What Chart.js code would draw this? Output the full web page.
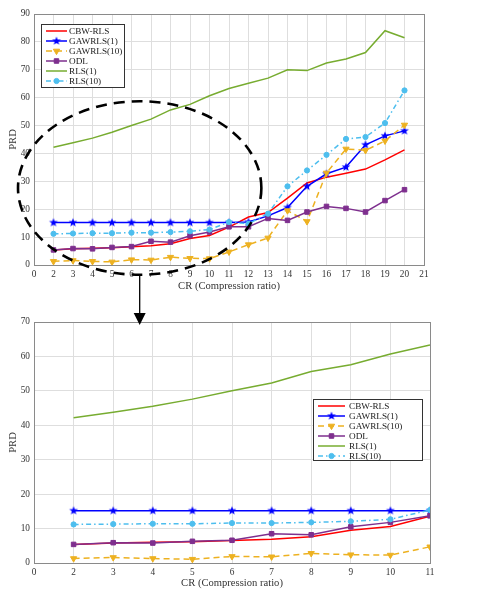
<!DOCTYPE html>
<html>
<head>
<meta charset="utf-8">
<script src="https://cdn.jsdelivr.net/npm/chart.js@4.4.0/dist/chart.umd.min.js"></script>
<style>
html, body { margin: 0; padding: 0; background: #fff; }
#wrap { position: relative; width: 478px; height: 594px; }
#chart_top { position: absolute; left: 0; top: 0; }
#chart_bottom { position: absolute; left: 0; top: 300px; }
#overlay { position: absolute; left: 0; top: 0; pointer-events: none; }
</style>
</head>
<body>
<div id="wrap">
  <canvas id="chart_top" width="478" height="300"></canvas>
  <canvas id="chart_bottom" width="478" height="294"></canvas>
  <canvas id="overlay" width="478" height="594"></canvas>
</div>
<script>
// compression ratios (shared by both panels, bottom one is a zoom on CR 2..11)
var cr = [2, 3, 4, 5, 6, 7, 8, 9, 10, 11, 12, 13, 14, 15, 16, 17, 18, 19, 20];

var cbw_rls  = [5.4, 5.8, 6.0, 6.2, 6.5, 6.9, 7.6, 9.5, 10.6, 13.6, 17.2, 18.8, 24.0, 29.4, 31.5, 32.9, 34.4, 37.7, 41.3];
var gawrls1  = [15.2, 15.2, 15.2, 15.2, 15.2, 15.2, 15.2, 15.2, 15.2, 15.2, 15.4, 17.6, 20.6, 28.2, 32.7, 35.1, 43.1, 46.3, 48.1];
var gawrls10 = [1.3, 1.6, 1.3, 1.1, 1.9, 1.8, 2.8, 2.4, 2.3, 4.7, 7.3, 9.7, 19.5, 15.6, 33.0, 41.6, 41.1, 44.5, 50.2];
var odl      = [5.4, 5.9, 5.8, 6.3, 6.6, 8.5, 8.2, 10.5, 11.8, 13.7, 13.7, 16.7, 16.0, 19.0, 21.0, 20.3, 19.0, 23.1, 27.0];
var rls1     = [42.2, 43.8, 45.5, 47.6, 50.0, 52.3, 55.6, 57.6, 60.7, 63.3, 65.2, 67.0, 70.0, 69.7, 72.4, 73.9, 76.2, 84.0, 81.5];
var rls10    = [11.2, 11.3, 11.4, 11.4, 11.6, 11.6, 11.8, 12.1, 12.7, 15.4, 14.8, 18.4, 28.2, 33.9, 39.5, 45.2, 45.9, 50.9, 62.6];

// tick labels (first tick sits at axis position 1 but reads "0")
var x_ticks_top = ['0', '2', '3', '4', '5', '6', '7', '8', '9', '10', '11', '12', '13', '14', '15', '16', '17', '18', '19', '20', '21'];
var x_ticks_bottom = ['0', '2', '3', '4', '5', '6', '7', '8', '9', '10', '11'];
var y_max_top = 90;
var y_max_bottom = 70;
var n_zoom = 10; // points shown in the zoomed panel

var x_title = 'CR (Compression ratio)';
var y_title = 'PRD';

var FONT = '"Liberation Serif", "Times New Roman", serif';

// dashed ellipse around the zoomed region, in top panel data units
var zoom_ring = { cx: 6.42, cy: 27.6, rx: 6.24, ry: 31.1 };

function makeStar(color, r) {
  var c = document.createElement('canvas');
  var s = Math.ceil(r * 2 + 2);
  c.width = s;
  c.height = s;
  var g = c.getContext('2d');
  g.fillStyle = color;
  g.beginPath();
  for (var i = 0; i < 10; i++) {
    var rad = i % 2 === 0 ? r : r * 0.42;
    var a = -Math.PI / 2 + i * Math.PI / 5;
    var px = s / 2 + rad * Math.cos(a);
    var py = s / 2 + rad * Math.sin(a);
    if (i === 0) g.moveTo(px, py); else g.lineTo(px, py);
  }
  g.closePath();
  g.fill();
  return c;
}

var star_img = makeStar('#0000ff', 4.6);

function pts(vals, n) {
  var out = [];
  for (var i = 0; i < n; i++) out.push({ x: cr[i], y: vals[i] });
  return out;
}

function makeDatasets(n) {
  var list = [
    { label: 'CBW-RLS', data: pts(cbw_rls, n), borderColor: '#ff0000', pointRadius: 0, pointStyle: false },
    { label: 'GAWRLS(1)', data: pts(gawrls1, n), borderColor: '#0000ff', pointStyle: star_img, pointRadius: 4 },
    { label: 'GAWRLS(10)', data: pts(gawrls10, n), borderColor: '#edb120', borderDash: [6, 4],
      pointStyle: 'triangle', pointRotation: 180, pointRadius: 3.6 },
    { label: 'ODL', data: pts(odl, n), borderColor: '#7e2f8e', pointStyle: 'rect', pointRadius: 3.2 },
    { label: 'RLS(1)', data: pts(rls1, n), borderColor: '#77ac30', pointRadius: 0, pointStyle: false },
    { label: 'RLS(10)', data: pts(rls10, n), borderColor: '#4dbeee', borderDash: [5, 3, 1.5, 3],
      pointStyle: 'circle', pointRadius: 2.6 }
  ];
  list.forEach(function(ds, i) {
    ds.backgroundColor = ds.borderColor;
    ds.pointBackgroundColor = ds.borderColor;
    ds.pointBorderColor = ds.borderColor;
    ds.pointBorderWidth = 1;
    ds.borderWidth = 1.5;
    ds.fill = false;
    ds.tension = 0;
    ds.order = -i; // later series on top, like matlab
  });
  return list;
}

// box around plot area + boxed legend inside it
var frame_plugin = {
  id: 'frame',
  afterDatasetsDraw: function(chart, args, opts) {
    var ctx = chart.ctx;
    var a = chart.chartArea;
    ctx.save();
    ctx.strokeStyle = '#8a8a8a';
    ctx.lineWidth = 1;
    ctx.strokeRect(Math.round(a.left) + 0.5, Math.round(a.top) + 0.5,
      Math.round(a.right - a.left), Math.round(a.bottom - a.top));

    // legend
    var L = opts.legend;
    var bx = a.left + L.dx, by = a.top + L.dy;
    ctx.fillStyle = '#ffffff';
    ctx.fillRect(bx, by, L.w, L.h);
    ctx.strokeStyle = '#333333';
    ctx.strokeRect(Math.round(bx) + 0.5, Math.round(by) + 0.5, L.w, L.h);
    ctx.font = '9.2px ' + FONT;
    ctx.textBaseline = 'middle';
    chart.data.datasets.forEach(function(ds, i) {
      var y = by + L.row0 + i * L.rowH;
      ctx.strokeStyle = ds.borderColor;
      ctx.lineWidth = 1.5;
      ctx.setLineDash(ds.borderDash || []);
      ctx.beginPath();
      ctx.moveTo(bx + L.line0, y);
      ctx.lineTo(bx + L.line1, y);
      ctx.stroke();
      ctx.setLineDash([]);
      if (ds.pointStyle) {
        ctx.fillStyle = ds.borderColor;
        ctx.lineWidth = 1;
        Chart.helpers.drawPoint(ctx, {
          pointStyle: ds.pointStyle, rotation: ds.pointRotation || 0,
          radius: ds.pointRadius, borderWidth: 1
        }, bx + (L.line0 + L.line1) / 2, y);
      }
      ctx.fillStyle = '#222';
      ctx.fillText(ds.label, bx + L.text, y + 0.5);
    });
    ctx.restore();
  }
};

function makeChart(id, n, ticks, ymax, layout, legend) {
  return new Chart(document.getElementById(id), {
    type: 'line',
    data: { datasets: makeDatasets(n) },
    plugins: [frame_plugin],
    options: {
      responsive: false,
      animation: false,
      devicePixelRatio: 1,
      layout: { padding: { top: layout.top, right: layout.right, left: 0, bottom: 0 } },
      plugins: {
        legend: { display: false },
        tooltip: { enabled: false },
        frame: { legend: legend }
      },
      scales: {
        x: {
          type: 'linear',
          min: 1,
          max: ticks.length,
          afterBuildTicks: function(ax) {
            ax.ticks = ticks.map(function(t, i) { return { value: i + 1 }; });
          },
          afterFit: function(ax) { ax.height = layout.xh; },
          ticks: {
            autoSkip: false,
            maxRotation: 0,
            padding: 4,
            color: '#333',
            font: { family: FONT, size: 9.3 },
            callback: function(v, i) { return ticks[i]; }
          },
          grid: { color: '#dedede', drawTicks: false },
          border: { display: false },
          title: {
            display: true, text: x_title, color: '#333',
            font: { family: FONT, size: 10.6 },
            padding: { top: 0, bottom: layout.titlePad }
          }
        },
        y: {
          min: 0,
          max: ymax,
          afterFit: function(ax) { ax.width = 34; },
          ticks: {
            stepSize: 10,
            padding: 4,
            color: '#333',
            font: { family: FONT, size: 9.3 }
          },
          grid: { color: '#dedede', drawTicks: false },
          border: { display: false },
          title: {
            display: true, text: y_title, color: '#333',
            font: { family: FONT, size: 10.6 },
            padding: { top: 7, bottom: 0 }
          }
        }
      }
    }
  });
}

var chart_top = makeChart('chart_top', cr.length, x_ticks_top, y_max_top,
  { top: 14, right: 54, xh: 35, titlePad: 7.5 },
  { dx: 7, dy: 10, w: 83, h: 63, line0: 5, line1: 26, text: 28, row0: 7, rowH: 10 });

var chart_bottom = makeChart('chart_bottom', n_zoom, x_ticks_bottom, y_max_bottom,
  { top: 22, right: 48, xh: 31, titlePad: 4.7 },
  { dx: 279, dy: 77, w: 109, h: 61, line0: 5, line1: 32, text: 36, row0: 7, rowH: 10 });

// dashed ring + arrow linking the two panels
function drawOverlay() {
  var ctx = document.getElementById('overlay').getContext('2d');
  var sx = chart_top.scales.x, sy = chart_top.scales.y;
  var cx = sx.getPixelForValue(zoom_ring.cx);
  var cy = sy.getPixelForValue(zoom_ring.cy);
  var rx = sx.getPixelForValue(zoom_ring.cx + zoom_ring.rx) - cx;
  var ry = cy - sy.getPixelForValue(zoom_ring.cy + zoom_ring.ry);

  ctx.save();
  ctx.strokeStyle = '#000';
  ctx.lineWidth = 2.6;
  ctx.setLineDash([11, 7]);
  ctx.beginPath();
  ctx.ellipse(cx, cy, rx, ry, 0, 0, Math.PI * 2);
  ctx.stroke();

  var y0 = cy + ry;
  var tip = 300 + chart_bottom.chartArea.top + 3;
  ctx.setLineDash([]);
  ctx.lineWidth = 1.3;
  ctx.beginPath();
  ctx.moveTo(cx, y0);
  ctx.lineTo(cx, tip - 11);
  ctx.stroke();
  ctx.fillStyle = '#000';
  ctx.beginPath();
  ctx.moveTo(cx - 6, tip - 12);
  ctx.lineTo(cx + 6, tip - 12);
  ctx.lineTo(cx, tip);
  ctx.closePath();
  ctx.fill();
  ctx.restore();
}

drawOverlay();
</script>
</body>
</html>
